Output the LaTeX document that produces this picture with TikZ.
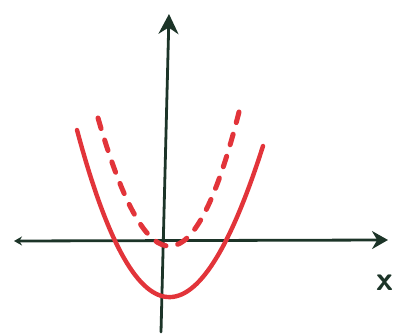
\documentclass[tikz,border=0pt]{standalone}
\usepackage{xcolor}
\definecolor{axisGreen}{RGB}{28, 52, 40}
\definecolor{penRed}{RGB}{226, 52, 58}
\usepackage{tikz}
\usetikzlibrary{arrows.meta}

\begin{document}
\begin{tikzpicture}[
  x=1pt, y=-1pt,
  axis/.style={draw=axisGreen, line width=2.8pt, line cap=round},
  curve/.style={draw=penRed, line width=4.4pt, line cap=round},
  dashcurve/.style={curve, line width=5pt, dash pattern=on 11pt off 12pt},
  lbl/.style={font=\sffamily\bfseries\fontsize{34}{34}\selectfont, text=axisGreen, inner sep=0pt}
]
\useasboundingbox (0,0) rectangle (403,336);
%% ── axes ──────────────────────────────────────────────────────
\coordinate (xl) at (14,241);
\coordinate (xr) at (388,240);
\coordinate (yb) at (161,332);
\coordinate (yt) at (169,14);
\draw[axis, {Stealth[length=8pt,width=9pt]}-{Stealth[length=16pt,width=18pt]}] (xl) -- (xr);
\draw[axis, -{Stealth[length=20pt,width=20pt]}] (yb) -- (yt);
\node[lbl] (xlab) at (385,283) {x};

%% ── solid parabola ────────────────────────────────────────────
\coordinate (sl) at (77,130);
\coordinate (sr) at (263,146);
\draw[curve] (sl) .. controls (135,347) and (197,353) .. (sr);

%% ── dashed parabola ───────────────────────────────────────────
\coordinate (dl) at (98,118);
\coordinate (dr) at (240,108);
\draw[dashcurve] (dl) .. controls (148,292) and (195,289) .. (dr);
\end{tikzpicture}
\end{document}
